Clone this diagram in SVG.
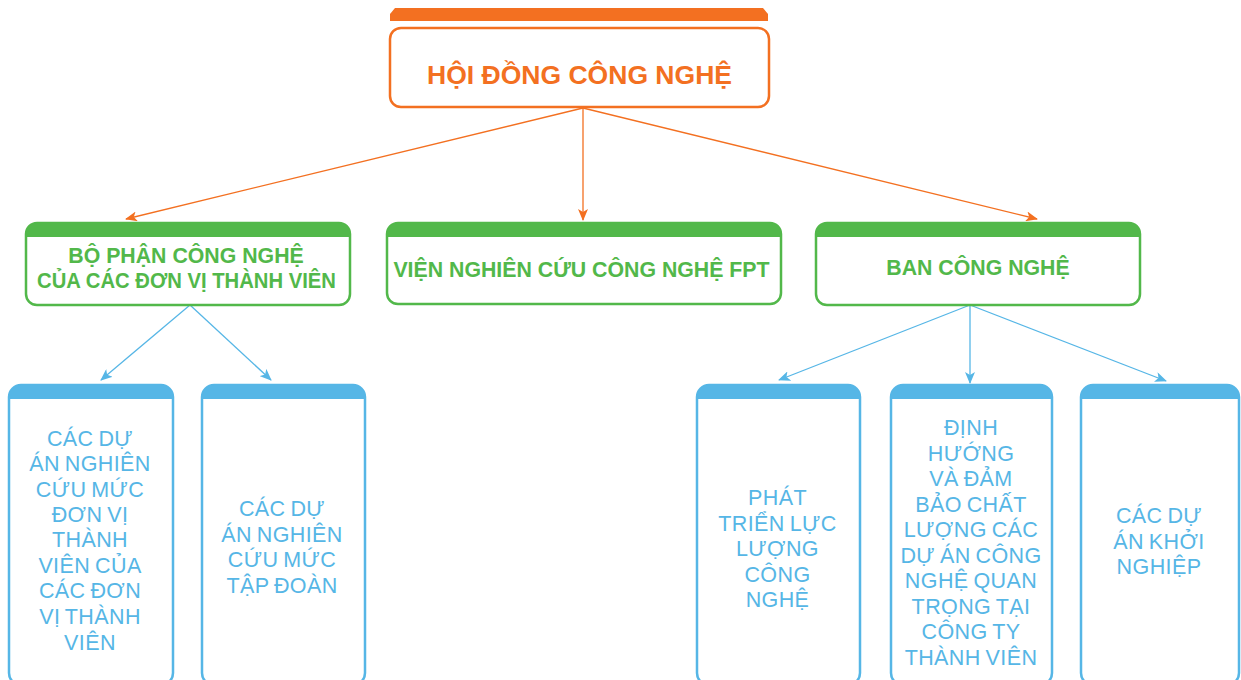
<svg xmlns="http://www.w3.org/2000/svg" width="1241" height="680" viewBox="0 0 1241 680">
<defs>
<style>
.o{fill:none;stroke:#F37021;stroke-width:2.5}
.g{fill:#fff;stroke:#52B84A;stroke-width:2.5}
.b{fill:#fff;stroke:#56B6E6;stroke-width:2.5}
.gf{fill:#52B84A}
.bf{fill:#56B6E6}
.ot{font-family:"Liberation Sans",Arial,sans-serif;font-weight:bold;font-size:25px;fill:#F37021;text-anchor:middle}
.gt{font-family:"Liberation Sans",Arial,sans-serif;font-weight:bold;font-size:21.3px;fill:#52B84A;text-anchor:middle}
.bt{font-family:"Liberation Sans",Arial,sans-serif;font-size:21.5px;letter-spacing:0.4px;word-spacing:-1.5px;fill:#56B6E6;text-anchor:middle}
.co{stroke:#F37021;stroke-width:1.3;fill:none}
.cb{stroke:#56B6E6;stroke-width:1.3;fill:none}
</style>
<marker id="ao" viewBox="0 0 12 10" refX="11" refY="5" markerWidth="12" markerHeight="10" markerUnits="userSpaceOnUse" orient="auto">
<path d="M0,0 L12,5 L0,10 L3,5 Z" fill="#F37021"/>
</marker>
<marker id="ab" viewBox="0 0 12 10" refX="11" refY="5" markerWidth="12" markerHeight="10" markerUnits="userSpaceOnUse" orient="auto">
<path d="M0,0 L12,5 L0,10 L3,5 Z" fill="#56B6E6"/>
</marker>
</defs>
<rect width="1241" height="680" fill="#fff"/>

<g id="connectors">
<line class="co" x1="583" y1="108" x2="126" y2="219" marker-end="url(#ao)"/>
<line class="co" x1="583" y1="108" x2="583" y2="220" marker-end="url(#ao)"/>
<line class="co" x1="583" y1="108" x2="1037" y2="219" marker-end="url(#ao)"/>
<line class="cb" x1="190" y1="305" x2="101" y2="380" marker-end="url(#ab)"/>
<line class="cb" x1="190" y1="305" x2="271" y2="380" marker-end="url(#ab)"/>
<line class="cb" x1="970" y1="305" x2="779" y2="380" marker-end="url(#ab)"/>
<line class="cb" x1="970" y1="305" x2="970" y2="383" marker-end="url(#ab)"/>
<line class="cb" x1="970" y1="305" x2="1166" y2="381" marker-end="url(#ab)"/>
</g>

<g id="hoi-dong">
<path d="M390,21 L390,14 L395,8 L763,8 L768,14 L768,21 Z" fill="#F37021"/>
<rect class="o" x="390" y="28" width="379" height="79" rx="11" fill="#fff"/>
<text class="ot" x="579.5" y="83.5" textLength="305" lengthAdjust="spacingAndGlyphs">HỘI ĐỒNG CÔNG NGHỆ</text>
</g>

<g id="bo-phan">
<rect class="g" x="26" y="223" width="324" height="82" rx="11"/>
<path class="gf" d="M26,237 L26,234 A11,11 0 0 1 37,223 L339,223 A11,11 0 0 1 350,234 L350,237 Z"/>
<text class="gt" x="186" y="263">BỘ PHẬN CÔNG NGHỆ</text>
<text class="gt" x="186.5" y="288" textLength="299" lengthAdjust="spacingAndGlyphs">CỦA CÁC ĐƠN VỊ THÀNH VIÊN</text>
</g>

<g id="vien">
<rect class="g" x="387" y="223" width="394" height="81" rx="11"/>
<path class="gf" d="M387,237 L387,234 A11,11 0 0 1 398,223 L770,223 A11,11 0 0 1 781,234 L781,237 Z"/>
<text class="gt" x="581.5" y="276.5">VIỆN NGHIÊN CỨU CÔNG NGHỆ FPT</text>
</g>

<g id="ban">
<rect class="g" x="816" y="223" width="324" height="82" rx="11"/>
<path class="gf" d="M816,237 L816,234 A11,11 0 0 1 827,223 L1129,223 A11,11 0 0 1 1140,234 L1140,237 Z"/>
<text class="gt" x="978" y="275">BAN CÔNG NGHỆ</text>
</g>

<g id="du-an-don-vi">
<rect class="b" x="9" y="385" width="164" height="300" rx="12"/>
<path class="bf" d="M9,399 L9,397 A12,12 0 0 1 21,385 L161,385 A12,12 0 0 1 173,397 L173,399 Z"/>
<text class="bt" x="90" y="446">CÁC DỰ</text>
<text class="bt" x="90" y="471">ÁN NGHIÊN</text>
<text class="bt" x="90" y="497">CỨU MỨC</text>
<text class="bt" x="90" y="522">ĐƠN VỊ</text>
<text class="bt" x="90" y="547">THÀNH</text>
<text class="bt" x="90" y="573">VIÊN CỦA</text>
<text class="bt" x="90" y="598">CÁC ĐƠN</text>
<text class="bt" x="90" y="623.5">VỊ THÀNH</text>
<text class="bt" x="90" y="649.5">VIÊN</text>
</g>

<g id="du-an-tap-doan">
<rect class="b" x="202" y="385" width="163" height="300" rx="12"/>
<path class="bf" d="M202,399 L202,397 A12,12 0 0 1 214,385 L353,385 A12,12 0 0 1 365,397 L365,399 Z"/>
<text class="bt" x="282" y="516">CÁC DỰ</text>
<text class="bt" x="282" y="541.5">ÁN NGHIÊN</text>
<text class="bt" x="282" y="567">CỨU MỨC</text>
<text class="bt" x="282" y="592.5">TẬP ĐOÀN</text>
</g>

<g id="phat-trien">
<rect class="b" x="697" y="385" width="163" height="300" rx="12"/>
<path class="bf" d="M697,399 L697,397 A12,12 0 0 1 709,385 L848,385 A12,12 0 0 1 860,397 L860,399 Z"/>
<text class="bt" x="777.5" y="505">PHÁT</text>
<text class="bt" x="777.5" y="530.5">TRIỂN LỰC</text>
<text class="bt" x="777.5" y="556">LƯỢNG</text>
<text class="bt" x="777.5" y="581.5">CÔNG</text>
<text class="bt" x="777.5" y="607">NGHỆ</text>
</g>

<g id="dinh-huong">
<rect class="b" x="891" y="385" width="161" height="300" rx="12"/>
<path class="bf" d="M891,399 L891,397 A12,12 0 0 1 903,385 L1040,385 A12,12 0 0 1 1052,397 L1052,399 Z"/>
<text class="bt" x="971" y="435">ĐỊNH</text>
<text class="bt" x="971" y="460.5">HƯỚNG</text>
<text class="bt" x="971" y="486">VÀ ĐẢM</text>
<text class="bt" x="971" y="511.5">BẢO CHẤT</text>
<text class="bt" x="971" y="537">LƯỢNG CÁC</text>
<text class="bt" x="971" y="562.5">DỰ ÁN CÔNG</text>
<text class="bt" x="971" y="588">NGHỆ QUAN</text>
<text class="bt" x="971" y="613.5">TRỌNG TẠI</text>
<text class="bt" x="971" y="639">CÔNG TY</text>
<text class="bt" x="971" y="664.5">THÀNH VIÊN</text>
</g>

<g id="khoi-nghiep">
<rect class="b" x="1081" y="385" width="158" height="300" rx="12"/>
<path class="bf" d="M1081,399 L1081,397 A12,12 0 0 1 1093,385 L1227,385 A12,12 0 0 1 1239,397 L1239,399 Z"/>
<text class="bt" x="1159" y="523">CÁC DỰ</text>
<text class="bt" x="1159" y="548.5">ÁN KHỞI</text>
<text class="bt" x="1159" y="574">NGHIỆP</text>
</g>
</svg>
